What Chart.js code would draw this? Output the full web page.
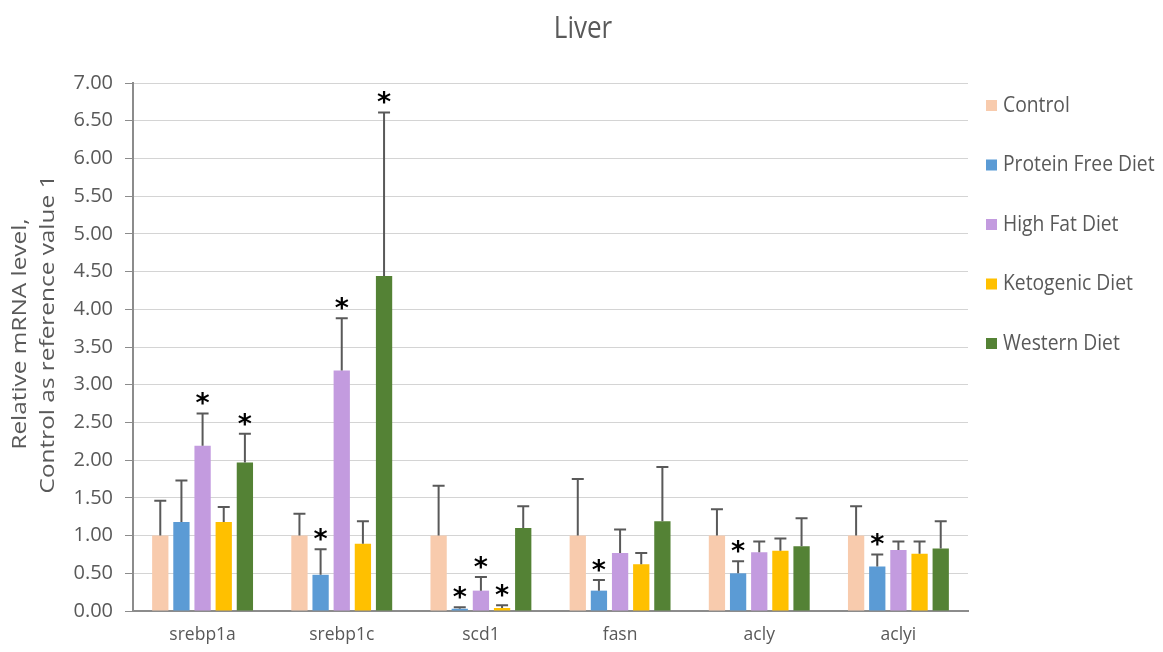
<!DOCTYPE html>
<html>
<head>
<meta charset="utf-8">
<script src="https://cdn.jsdelivr.net/npm/chart.js@4.4.1/dist/chart.umd.min.js"></script>
<style>
  html, body { margin: 0; padding: 0; background: #ffffff; }
  #wrap { width: 1163px; height: 652px; position: relative; }
</style>
</head>
<body>
<div id="wrap"><canvas id="c" width="1163" height="652"></canvas></div>
<script>
const chartTitle = 'Liver';
const yTitleLines = ['Relative mRNA level,', 'Control as reference value 1'];
const categories = ['srebp1a', 'srebp1c', 'scd1', 'fasn', 'acly', 'aclyi'];
const seriesNames = ['Control', 'Protein Free Diet', 'High Fat Diet', 'Ketogenic Diet', 'Western Diet'];
const seriesColors = ['#F8CBAD', '#5B9BD5', '#C39BDF', '#FFC000', '#548235'];

const control    = [1.00, 1.00, 1.00, 1.00, 1.00, 1.00];
const controlErr = [0.46, 0.29, 0.66, 0.75, 0.35, 0.39];
const controlSig = [0, 0, 0, 0, 0, 0];

const proteinFree    = [1.18, 0.48, 0.03, 0.27, 0.50, 0.59];
const proteinFreeErr = [0.55, 0.34, 0.02, 0.14, 0.16, 0.16];
const proteinFreeSig = [0, 1, 1, 1, 1, 1];

const highFat    = [2.19, 3.19, 0.27, 0.77, 0.78, 0.81];
const highFatErr = [0.43, 0.69, 0.18, 0.31, 0.14, 0.11];
const highFatSig = [1, 1, 1, 0, 0, 0];

const ketogenic    = [1.18, 0.89, 0.04, 0.62, 0.80, 0.76];
const ketogenicErr = [0.20, 0.30, 0.035, 0.15, 0.16, 0.16];
const ketogenicSig = [0, 0, 1, 0, 0, 0];

const western    = [1.97, 4.44, 1.10, 1.19, 0.86, 0.83];
const westernErr = [0.38, 2.17, 0.29, 0.72, 0.37, 0.36];
const westernSig = [1, 1, 0, 0, 0, 0];

const yTicks = [0, 0.5, 1, 1.5, 2, 2.5, 3, 3.5, 4, 4.5, 5, 5.5, 6, 6.5, 7];

const values = [control, proteinFree, highFat, ketogenic, western];
const errors = [controlErr, proteinFreeErr, highFatErr, ketogenicErr, westernErr];
const sigs = [controlSig, proteinFreeSig, highFatSig, ketogenicSig, westernSig];

const TEXT = '#595959';
const FONT = "'Open Sans', 'Noto Sans', sans-serif";

const datasets = seriesNames.map((name, i) => ({
  label: name,
  data: values[i],
  errors: errors[i],
  sig: sigs[i],
  backgroundColor: seriesColors[i],
  borderWidth: 0,
  categoryPercentage: 0.76,
  barPercentage: 0.77
}));

const extrasPlugin = {
  id: 'extras',
  afterDatasetsDraw(chart) {
    const ctx = chart.ctx;
    const ys = chart.scales.y;
    ctx.save();
    chart.data.datasets.forEach((ds, i) => {
      const meta = chart.getDatasetMeta(i);
      meta.data.forEach((bar, j) => {
        const top = ys.getPixelForValue(ds.data[j]);
        const cap = ys.getPixelForValue(ds.data[j] + ds.errors[j]);
        ctx.strokeStyle = '#595959';
        ctx.lineWidth = 2;
        ctx.beginPath();
        ctx.moveTo(bar.x, top);
        ctx.lineTo(bar.x, cap);
        ctx.moveTo(bar.x - 6, cap);
        ctx.lineTo(bar.x + 6, cap);
        ctx.stroke();
        if (ds.sig[j]) {
          ctx.fillStyle = '#000000';
          ctx.font = "bold 27px 'DejaVu Sans', sans-serif";
          ctx.textAlign = 'center';
          ctx.textBaseline = 'alphabetic';
          const m = ctx.measureText('*');
          const mid = (m.actualBoundingBoxAscent - m.actualBoundingBoxDescent) / 2;
          ctx.fillText('*', bar.x, cap - 14.5 + mid);
        }
      });
    });
    ctx.restore();
  },
  afterDraw(chart) {
    const ctx = chart.ctx;
    ctx.save();
    // Title
    ctx.fillStyle = TEXT;
    ctx.textAlign = 'center';
    ctx.textBaseline = 'middle';
    ctx.save();
    ctx.translate(583, 29);
    ctx.scale(1, 1.18);
    ctx.font = '26px ' + FONT;
    ctx.fillText(chartTitle, 0, 0);
    ctx.restore();
    // Y axis title
    ctx.save();
    ctx.translate(33, 334);
    ctx.rotate(-Math.PI / 2);
    ctx.scale(1.25, 1);
    ctx.font = '19.5px ' + FONT;
    ctx.fillText(yTitleLines[0], 0, -13);
    ctx.fillText(yTitleLines[1], 0, 15);
    ctx.restore();
    // Legend
    ctx.textAlign = 'left';
    chart.data.datasets.forEach((ds, i) => {
      const cy = 105.5 + i * 59.5;
      ctx.fillStyle = ds.backgroundColor;
      ctx.fillRect(986, cy - 5.5, 11, 11);
      ctx.fillStyle = TEXT;
      ctx.save();
      ctx.translate(1003, cy);
      ctx.scale(1, 1.15);
      ctx.font = '19.3px ' + FONT;
      ctx.textBaseline = 'middle';
      ctx.fillText(ds.label, 0, 0);
      ctx.restore();
    });
    ctx.restore();
  }
};

new Chart(document.getElementById('c'), {
  type: 'bar',
  data: { labels: categories, datasets },
  plugins: [extrasPlugin],
  options: {
    responsive: false,
    animation: false,
    devicePixelRatio: 1,
    layout: { padding: { top: 83, right: 195, left: 0, bottom: 0 } },
    plugins: {
      legend: { display: false },
      title: { display: false },
      tooltip: { enabled: false }
    },
    scales: {
      x: {
        afterFit(scale) { scale.height = 41; },
        grid: { display: true, drawOnChartArea: false, drawTicks: false },
        border: { display: true, color: '#8C8C8C', width: 2 },
        ticks: { color: TEXT, font: { family: FONT, size: 17.5 }, padding: 14 }
      },
      y: {
        min: 0,
        max: 7,
        afterFit(scale) { scale.width = 133; },
        afterBuildTicks(scale) { scale.ticks = yTicks.map(v => ({ value: v })); },
        grid: { color: '#D4D4D4', lineWidth: 1, tickColor: '#8C8C8C', tickLength: 8 },
        border: { display: true, color: '#8C8C8C', width: 2 },
        ticks: {
          color: TEXT,
          padding: 12,
          font: { family: FONT, size: 20 },
          callback: (v) => Number(v).toFixed(2)
        }
      }
    }
  }
});
</script>
</body>
</html>
